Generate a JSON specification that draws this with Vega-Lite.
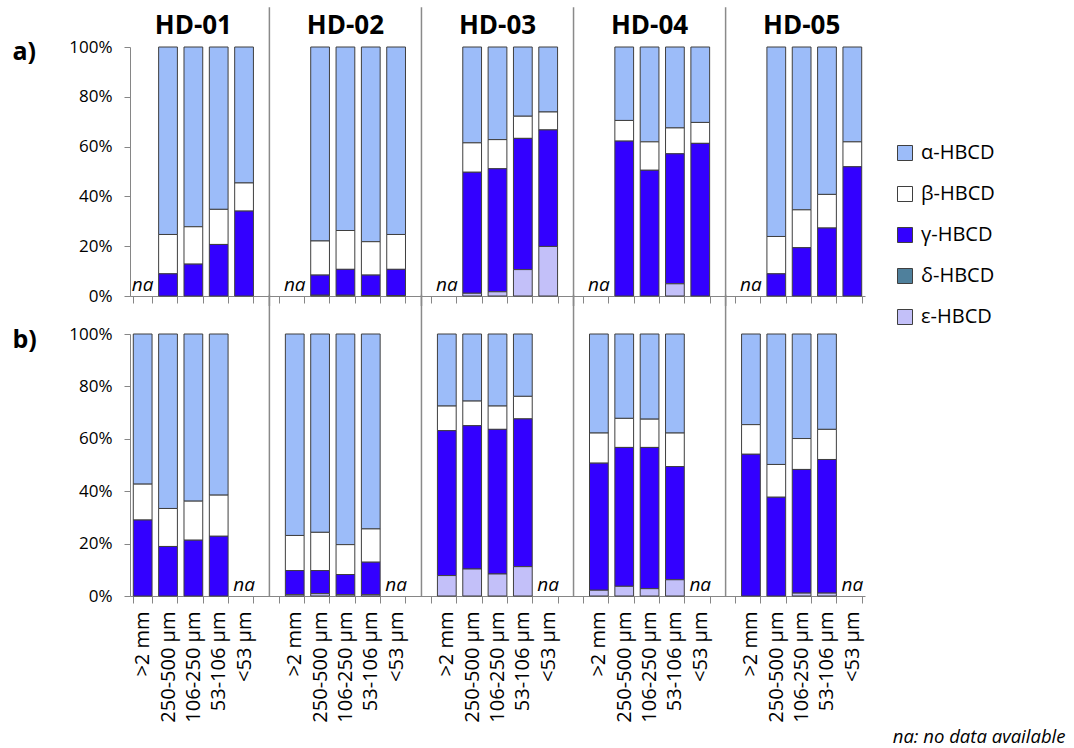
{
  "$schema": "https://vega.github.io/schema/vega-lite/v6.json",
  "padding": {"left": 12, "top": 6, "right": 5, "bottom": 5},
  "config": {
    "view": {"stroke": null},
    "font": "Open Sans",
    "axis": {"domainColor": "#868686", "tickColor": "#868686", "labelColor": "#000000", "grid": false}
  },
  "datasets": {
    "a": [
      {"cat": "HD-01|250-500 µm", "α-HBCD": 75.3, "β-HBCD": 15.8, "γ-HBCD": 8.9, "δ-HBCD": 0, "ε-HBCD": 0},
      {"cat": "HD-01|106-250 µm", "α-HBCD": 72.2, "β-HBCD": 15.0, "γ-HBCD": 12.8, "δ-HBCD": 0, "ε-HBCD": 0},
      {"cat": "HD-01|53-106 µm", "α-HBCD": 65.2, "β-HBCD": 14.1, "γ-HBCD": 20.7, "δ-HBCD": 0, "ε-HBCD": 0},
      {"cat": "HD-01|<53 µm", "α-HBCD": 54.6, "β-HBCD": 11.3, "γ-HBCD": 34.1, "δ-HBCD": 0, "ε-HBCD": 0},
      {"cat": "HD-02|250-500 µm", "α-HBCD": 77.9, "β-HBCD": 13.7, "γ-HBCD": 8.1, "δ-HBCD": 0, "ε-HBCD": 0.3},
      {"cat": "HD-02|106-250 µm", "α-HBCD": 73.7, "β-HBCD": 15.6, "γ-HBCD": 10.4, "δ-HBCD": 0, "ε-HBCD": 0.3},
      {"cat": "HD-02|53-106 µm", "α-HBCD": 78.2, "β-HBCD": 13.4, "γ-HBCD": 8.2, "δ-HBCD": 0, "ε-HBCD": 0.2},
      {"cat": "HD-02|<53 µm", "α-HBCD": 75.3, "β-HBCD": 14.0, "γ-HBCD": 10.5, "δ-HBCD": 0, "ε-HBCD": 0.2},
      {"cat": "HD-03|250-500 µm", "α-HBCD": 38.5, "β-HBCD": 11.8, "γ-HBCD": 48.6, "δ-HBCD": 0, "ε-HBCD": 1.1},
      {"cat": "HD-03|106-250 µm", "α-HBCD": 37.2, "β-HBCD": 11.7, "γ-HBCD": 49.4, "δ-HBCD": 0, "ε-HBCD": 1.7},
      {"cat": "HD-03|53-106 µm", "α-HBCD": 27.8, "β-HBCD": 8.9, "γ-HBCD": 52.7, "δ-HBCD": 0, "ε-HBCD": 10.6},
      {"cat": "HD-03|<53 µm", "α-HBCD": 26.1, "β-HBCD": 7.2, "γ-HBCD": 46.8, "δ-HBCD": 0, "ε-HBCD": 19.9},
      {"cat": "HD-04|250-500 µm", "α-HBCD": 29.5, "β-HBCD": 8.3, "γ-HBCD": 62.2, "δ-HBCD": 0, "ε-HBCD": 0},
      {"cat": "HD-04|106-250 µm", "α-HBCD": 38.1, "β-HBCD": 11.4, "γ-HBCD": 50.5, "δ-HBCD": 0, "ε-HBCD": 0},
      {"cat": "HD-04|53-106 µm", "α-HBCD": 32.5, "β-HBCD": 10.4, "γ-HBCD": 52.2, "δ-HBCD": 0, "ε-HBCD": 4.9},
      {"cat": "HD-04|<53 µm", "α-HBCD": 30.3, "β-HBCD": 8.4, "γ-HBCD": 61.3, "δ-HBCD": 0, "ε-HBCD": 0},
      {"cat": "HD-05|250-500 µm", "α-HBCD": 76.1, "β-HBCD": 15.0, "γ-HBCD": 8.9, "δ-HBCD": 0, "ε-HBCD": 0},
      {"cat": "HD-05|106-250 µm", "α-HBCD": 65.4, "β-HBCD": 15.2, "γ-HBCD": 19.4, "δ-HBCD": 0, "ε-HBCD": 0},
      {"cat": "HD-05|53-106 µm", "α-HBCD": 59.2, "β-HBCD": 13.5, "γ-HBCD": 27.3, "δ-HBCD": 0, "ε-HBCD": 0},
      {"cat": "HD-05|<53 µm", "α-HBCD": 38.1, "β-HBCD": 10.0, "γ-HBCD": 51.9, "δ-HBCD": 0, "ε-HBCD": 0}
    ],
    "b": [
      {"cat": "HD-01|>2 mm", "α-HBCD": 57.3, "β-HBCD": 13.7, "γ-HBCD": 29.0, "δ-HBCD": 0, "ε-HBCD": 0},
      {"cat": "HD-01|250-500 µm", "α-HBCD": 66.6, "β-HBCD": 14.5, "γ-HBCD": 18.9, "δ-HBCD": 0, "ε-HBCD": 0},
      {"cat": "HD-01|106-250 µm", "α-HBCD": 63.8, "β-HBCD": 14.9, "γ-HBCD": 21.3, "δ-HBCD": 0, "ε-HBCD": 0},
      {"cat": "HD-01|53-106 µm", "α-HBCD": 61.5, "β-HBCD": 15.7, "γ-HBCD": 22.8, "δ-HBCD": 0, "ε-HBCD": 0},
      {"cat": "HD-02|>2 mm", "α-HBCD": 76.9, "β-HBCD": 13.4, "γ-HBCD": 9.2, "δ-HBCD": 0, "ε-HBCD": 0.5},
      {"cat": "HD-02|250-500 µm", "α-HBCD": 75.7, "β-HBCD": 14.6, "γ-HBCD": 8.8, "δ-HBCD": 0, "ε-HBCD": 0.9},
      {"cat": "HD-02|106-250 µm", "α-HBCD": 80.4, "β-HBCD": 11.4, "γ-HBCD": 7.7, "δ-HBCD": 0, "ε-HBCD": 0.5},
      {"cat": "HD-02|53-106 µm", "α-HBCD": 74.4, "β-HBCD": 12.7, "γ-HBCD": 12.4, "δ-HBCD": 0, "ε-HBCD": 0.5},
      {"cat": "HD-03|>2 mm", "α-HBCD": 27.5, "β-HBCD": 9.4, "γ-HBCD": 55.3, "δ-HBCD": 0, "ε-HBCD": 7.8},
      {"cat": "HD-03|250-500 µm", "α-HBCD": 25.6, "β-HBCD": 9.4, "γ-HBCD": 54.7, "δ-HBCD": 0, "ε-HBCD": 10.3},
      {"cat": "HD-03|106-250 µm", "α-HBCD": 27.5, "β-HBCD": 8.9, "γ-HBCD": 55.2, "δ-HBCD": 0, "ε-HBCD": 8.4},
      {"cat": "HD-03|53-106 µm", "α-HBCD": 23.8, "β-HBCD": 8.6, "γ-HBCD": 56.4, "δ-HBCD": 0, "ε-HBCD": 11.2},
      {"cat": "HD-04|>2 mm", "α-HBCD": 37.8, "β-HBCD": 11.5, "γ-HBCD": 48.5, "δ-HBCD": 0, "ε-HBCD": 2.2},
      {"cat": "HD-04|250-500 µm", "α-HBCD": 32.2, "β-HBCD": 11.1, "γ-HBCD": 53.0, "δ-HBCD": 0, "ε-HBCD": 3.7},
      {"cat": "HD-04|106-250 µm", "α-HBCD": 32.5, "β-HBCD": 10.8, "γ-HBCD": 53.9, "δ-HBCD": 0, "ε-HBCD": 2.8},
      {"cat": "HD-04|53-106 µm", "α-HBCD": 37.8, "β-HBCD": 12.8, "γ-HBCD": 43.2, "δ-HBCD": 0, "ε-HBCD": 6.2},
      {"cat": "HD-05|>2 mm", "α-HBCD": 34.6, "β-HBCD": 11.3, "γ-HBCD": 54.1, "δ-HBCD": 0, "ε-HBCD": 0},
      {"cat": "HD-05|250-500 µm", "α-HBCD": 49.8, "β-HBCD": 12.5, "γ-HBCD": 37.7, "δ-HBCD": 0, "ε-HBCD": 0},
      {"cat": "HD-05|106-250 µm", "α-HBCD": 39.9, "β-HBCD": 11.8, "γ-HBCD": 47.2, "δ-HBCD": 0, "ε-HBCD": 1.1},
      {"cat": "HD-05|53-106 µm", "α-HBCD": 36.4, "β-HBCD": 11.5, "γ-HBCD": 51.0, "δ-HBCD": 0, "ε-HBCD": 1.1}
    ],
    "na_a": [
      {"cat": "HD-01|>2 mm"}, {"cat": "HD-02|>2 mm"}, {"cat": "HD-03|>2 mm"}, {"cat": "HD-04|>2 mm"}, {"cat": "HD-05|>2 mm"}
    ],
    "na_b": [
      {"cat": "HD-01|<53 µm"}, {"cat": "HD-02|<53 µm"}, {"cat": "HD-03|<53 µm"}, {"cat": "HD-04|<53 µm"}, {"cat": "HD-05|<53 µm"}
    ],
    "sep": [{"cat": "gap1"}, {"cat": "gap2"}, {"cat": "gap3"}, {"cat": "gap4"}],
    "titles": [
      {"cat": "HD-01|106-250 µm", "label": "HD-01"},
      {"cat": "HD-02|106-250 µm", "label": "HD-02"},
      {"cat": "HD-03|106-250 µm", "label": "HD-03"},
      {"cat": "HD-04|106-250 µm", "label": "HD-04"},
      {"cat": "HD-05|106-250 µm", "label": "HD-05"}
    ]
  },
  "bounds": "flush",
  "spacing": 38,
  "vconcat": [
    {
      "width": 735,
      "height": 249,
      "encoding": {
        "x": {
          "field": "cat", "type": "nominal", "sort": null,
          "scale": {
            "domain": ["HD-01|>2 mm", "HD-01|250-500 µm", "HD-01|106-250 µm", "HD-01|53-106 µm", "HD-01|<53 µm", "gap1",
                       "HD-02|>2 mm", "HD-02|250-500 µm", "HD-02|106-250 µm", "HD-02|53-106 µm", "HD-02|<53 µm", "gap2",
                       "HD-03|>2 mm", "HD-03|250-500 µm", "HD-03|106-250 µm", "HD-03|53-106 µm", "HD-03|<53 µm", "gap3",
                       "HD-04|>2 mm", "HD-04|250-500 µm", "HD-04|106-250 µm", "HD-04|53-106 µm", "HD-04|<53 µm", "gap4",
                       "HD-05|>2 mm", "HD-05|250-500 µm", "HD-05|106-250 µm", "HD-05|53-106 µm", "HD-05|<53 µm"],
            "paddingInner": 0.26, "paddingOuter": 0.13
          },
          "axis": {"labels": false, "title": null, "tickBand": "extent", "tickSize": 7}
        }
      },
      "layer": [
        {
          "data": {"name": "sep"},
          "mark": {"type": "rule", "color": "#8a8a8a", "strokeWidth": 1.5},
          "encoding": {"y": {"datum": 116, "type": "quantitative"}, "y2": {"datum": -4}}
        },
        {
          "data": {"name": "a"},
          "transform": [
            {"fold": ["α-HBCD", "β-HBCD", "γ-HBCD", "δ-HBCD", "ε-HBCD"], "as": ["isomer", "pct"]},
            {"filter": "datum.pct > 0"}
          ],
          "mark": {"type": "bar", "stroke": "#3f3f3f", "strokeWidth": 1},
          "encoding": {
            "y": {
              "field": "pct", "type": "quantitative", "stack": "zero",
              "scale": {"domain": [0, 100]},
              "axis": {
                "values": [0, 20, 40, 60, 80, 100], "labelExpr": "datum.value + '%'",
                "tickSize": 6, "labelPadding": 12, "labelFontSize": 17,
                "title": "a)", "titleAngle": 0, "titleX": -118, "titleY": 4,
                "titleAlign": "left", "titleBaseline": "middle", "titleFontSize": 25, "titleFontWeight": "bold", "titleColor": "#000000"
              }
            },
            "color": {
              "field": "isomer", "type": "nominal",
              "scale": {
                "domain": ["α-HBCD", "β-HBCD", "γ-HBCD", "δ-HBCD", "ε-HBCD"],
                "range": ["#9cbcf9", "#ffffff", "#3300ff", "#4f809c", "#c3c0f9"]
              },
              "legend": {
                "orient": "none", "legendX": 765, "legendY": 96, "title": null,
                "symbolType": "square", "symbolSize": 225, "symbolStrokeColor": "#7f7f7f", "symbolStrokeWidth": 1,
                "labelFontSize": 20, "labelOffset": 6, "rowPadding": 21, "labelColor": "#000000"
              }
            },
            "order": {"field": "isomer", "sort": "descending"}
          }
        },
        {
          "data": {"name": "na_a"},
          "mark": {"type": "text", "text": "na", "fontStyle": "italic", "fontSize": 19, "baseline": "bottom", "dy": -1},
          "encoding": {"y": {"datum": 0, "type": "quantitative"}}
        },
        {
          "data": {"name": "titles"},
          "mark": {"type": "text", "fontSize": 26, "fontWeight": "bold", "baseline": "middle"},
          "encoding": {"y": {"datum": 108.5, "type": "quantitative"}, "text": {"field": "label"}}
        }
      ]
    },
    {
      "width": 735,
      "height": 262,
      "encoding": {
        "x": {
          "field": "cat", "type": "nominal", "sort": null,
          "scale": {
            "domain": ["HD-01|>2 mm", "HD-01|250-500 µm", "HD-01|106-250 µm", "HD-01|53-106 µm", "HD-01|<53 µm", "gap1",
                       "HD-02|>2 mm", "HD-02|250-500 µm", "HD-02|106-250 µm", "HD-02|53-106 µm", "HD-02|<53 µm", "gap2",
                       "HD-03|>2 mm", "HD-03|250-500 µm", "HD-03|106-250 µm", "HD-03|53-106 µm", "HD-03|<53 µm", "gap3",
                       "HD-04|>2 mm", "HD-04|250-500 µm", "HD-04|106-250 µm", "HD-04|53-106 µm", "HD-04|<53 µm", "gap4",
                       "HD-05|>2 mm", "HD-05|250-500 µm", "HD-05|106-250 µm", "HD-05|53-106 µm", "HD-05|<53 µm"],
            "paddingInner": 0.26, "paddingOuter": 0.13
          },
          "axis": {
            "tickBand": "extent", "tickSize": 7,
            "labelExpr": "indexof(datum.label, '|') < 0 ? '' : split(datum.label, '|')[1]",
            "labelAngle": -90, "labelAlign": "right", "labelBaseline": "middle", "labelFontSize": 20, "labelPadding": 8,
            "title": "na: no data available", "titleX": 935, "titleY": 140, "titleAlign": "right", "titleBaseline": "middle",
            "titleFontStyle": "italic", "titleFontWeight": "normal", "titleFontSize": 18.5, "titleColor": "#000000"
          }
        }
      },
      "layer": [
        {
          "data": {"name": "sep"},
          "mark": {"type": "rule", "color": "#8a8a8a", "strokeWidth": 1.5},
          "encoding": {"y": {"datum": 115, "type": "quantitative"}, "y2": {"datum": 0}}
        },
        {
          "data": {"name": "b"},
          "transform": [
            {"fold": ["α-HBCD", "β-HBCD", "γ-HBCD", "δ-HBCD", "ε-HBCD"], "as": ["isomer", "pct"]},
            {"filter": "datum.pct > 0"}
          ],
          "mark": {"type": "bar", "stroke": "#3f3f3f", "strokeWidth": 1},
          "encoding": {
            "y": {
              "field": "pct", "type": "quantitative", "stack": "zero",
              "scale": {"domain": [0, 100]},
              "axis": {
                "values": [0, 20, 40, 60, 80, 100], "labelExpr": "datum.value + '%'",
                "tickSize": 6, "labelPadding": 12, "labelFontSize": 17,
                "title": "b)", "titleAngle": 0, "titleX": -118, "titleY": 5,
                "titleAlign": "left", "titleBaseline": "middle", "titleFontSize": 25, "titleFontWeight": "bold", "titleColor": "#000000"
              }
            },
            "color": {"field": "isomer", "type": "nominal"},
            "order": {"field": "isomer", "sort": "descending"}
          }
        },
        {
          "data": {"name": "na_b"},
          "mark": {"type": "text", "text": "na", "fontStyle": "italic", "fontSize": 19, "baseline": "bottom", "dy": -1},
          "encoding": {"y": {"datum": 0, "type": "quantitative"}}
        }
      ]
    }
  ]
}
